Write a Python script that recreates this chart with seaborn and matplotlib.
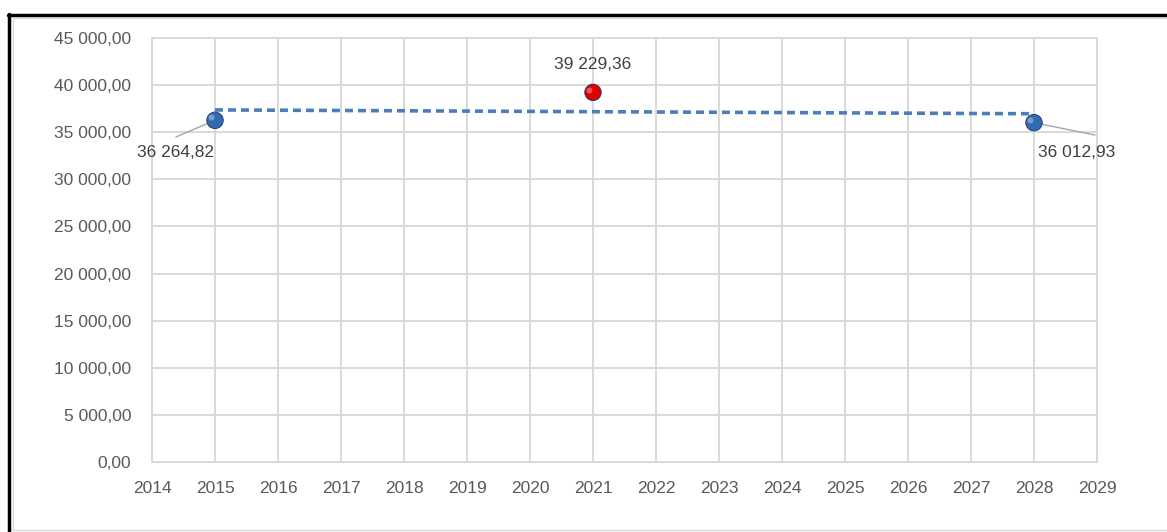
import numpy as np
import pandas as pd
import matplotlib
matplotlib.use("Agg")
import matplotlib.pyplot as plt
import seaborn as sns
from matplotlib.lines import Line2D

years = [2015, 2021, 2028]
values = [36264.82, 39229.36, 36012.93]
point_colors = ["#336bb3", "#e00000", "#336bb3"]
labels = ["36 264,82", "39 229,36", "36 012,93"]
y_ticks = [0, 5000, 10000, 15000, 20000, 25000, 30000, 35000, 40000, 45000]
x_ticks = list(range(2014, 2030))


def fmt(v):
    s = f"{v:,.2f}"
    return s.replace(",", " ").replace(".", ",")


sns.set_theme(style="white")
plt.rcParams['font.family'] = ['Liberation Sans', 'DejaVu Sans']
FS = 12.5

fig = plt.figure(figsize=(11.67, 5.32), dpi=100)
ax = fig.add_axes([152 / 1167, 1 - 462 / 532, (1097 - 152) / 1167, (462 - 38) / 532])

df = pd.DataFrame({"year": years, "value": values})

# linear trend line through the points
coef = np.polyfit(years, values, 1)
trend = pd.DataFrame({"year": [years[0], years[-1]]})
trend["value"] = np.polyval(coef, trend["year"])
sns.lineplot(data=trend, x="year", y="value", ax=ax, color="#4a7ebb",
             linewidth=2.6, linestyle=(0, (2.2, 1.4)), zorder=3)

# leader lines for the outer labels
ax.plot([years[0], 2014.38], [values[0], 34500], color="#a6a6a6", lw=1, zorder=2)
ax.plot([years[2], 2028.97], [values[2], 34700], color="#a6a6a6", lw=1, zorder=2)

sns.scatterplot(data=df, x="year", y="value", ax=ax, hue="year",
                palette=point_colors, s=140, edgecolor="#1f3f6e",
                linewidth=0.7, legend=False, zorder=4)
# small highlight to mimic sphere
ax.scatter(np.array(years) - 0.06, np.array(values) + 300, s=18,
           color="white", alpha=0.35, zorder=5, linewidths=0)

ax.set_xlim(2014, 2029)
ax.set_ylim(0, 45000)
ax.set_xticks(x_ticks)
ax.set_yticks(y_ticks)
ax.set_yticklabels([fmt(v) for v in y_ticks])
ax.set_xticklabels([str(x) for x in x_ticks])
ax.set_xlabel("")
ax.set_ylabel("")
ax.grid(True, color="#d9d9d9", linewidth=1.4)
for sp in ax.spines.values():
    sp.set_color("#d9d9d9")
    sp.set_linewidth(1.4)
ax.tick_params(axis="both", labelsize=FS, colors="#595959", length=0)
ax.tick_params(axis="y", pad=15)
ax.tick_params(axis="x", pad=14)

# data labels
ax.text(2014.37, 32800, labels[0], ha="center", va="center", fontsize=FS, color="#404040")
ax.text(years[1], 42150, labels[1], ha="center", va="center", fontsize=FS, color="#404040")
ax.text(2028.68, 32800, labels[2], ha="center", va="center", fontsize=FS, color="#404040")

# frame of the chart
fig.add_artist(Line2D([8 / 1167, 1], [1 - 15 / 532, 1 - 15 / 532],
                      transform=fig.transFigure, color="black", linewidth=2.5))
fig.add_artist(Line2D([9 / 1167, 9 / 1167], [0, 1 - 14 / 532],
                      transform=fig.transFigure, color="black", linewidth=2.5))
fig.add_artist(Line2D([13 / 1167, 1], [1 - 18 / 532, 1 - 18 / 532],
                      transform=fig.transFigure, color="#d9d9d9", linewidth=1))
fig.add_artist(Line2D([13 / 1167, 13 / 1167], [2 / 532, 1 - 18 / 532],
                      transform=fig.transFigure, color="#d9d9d9", linewidth=1))
fig.add_artist(Line2D([13 / 1167, 1], [2 / 532, 2 / 532],
                      transform=fig.transFigure, color="#d9d9d9", linewidth=1))

fig.savefig("out.png", dpi=100)
